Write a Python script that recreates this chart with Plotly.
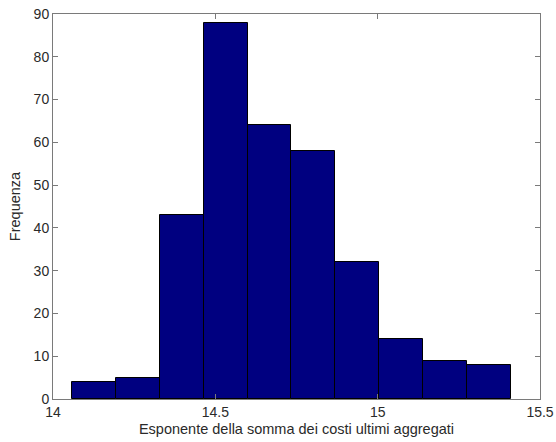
import plotly.graph_objects as go

bin_start = 14.0594
bin_width = 0.1350
counts = [4, 5, 43, 88, 64, 58, 32, 14, 9, 8]
x_ticks = [14, 14.5, 15, 15.5]
x_tick_labels = ["14", "14.5", "15", "15.5"]
y_ticks = [0, 10, 20, 30, 40, 50, 60, 70, 80, 90]

centers = [bin_start + bin_width * (i + 0.5) for i in range(len(counts))]

fig = go.Figure(go.Bar(
    x=centers, y=counts, width=[bin_width] * len(counts),
    marker=dict(color="#000080", line=dict(color="#000000", width=1)),
    hoverinfo="x+y",
))

axis_common = dict(
    showline=True, linecolor="#7a7a7a", linewidth=1, mirror="ticks",
    ticks="inside", ticklen=5, tickcolor="#7a7a7a", showgrid=False, zeroline=False,
    automargin=False,
    tickfont=dict(family="Liberation Sans, Arial, sans-serif", size=14, color="#2a2a2a"),
)

fig.update_layout(
    width=556, height=442,
    margin=dict(l=53, r=16, t=14, b=43),
    paper_bgcolor="white", plot_bgcolor="white",
    showlegend=False, bargap=0,
    font=dict(family="Liberation Sans, Arial, sans-serif", size=14, color="#2a2a2a"),
    xaxis=dict(range=[14, 15.5], tickvals=x_ticks, ticktext=x_tick_labels,
               title=dict(text="Esponente della somma dei costi ultimi aggregati", standoff=5,
                          font=dict(size=14.5)), **axis_common),
    yaxis=dict(range=[0, 90], tickvals=y_ticks,
               title=dict(text="Frequenza", standoff=9, font=dict(size=14.5)), **axis_common),
)

fig.write_html("out.html", config={"displayModeBar": False},
               post_script="document.body.style.margin='0';")
